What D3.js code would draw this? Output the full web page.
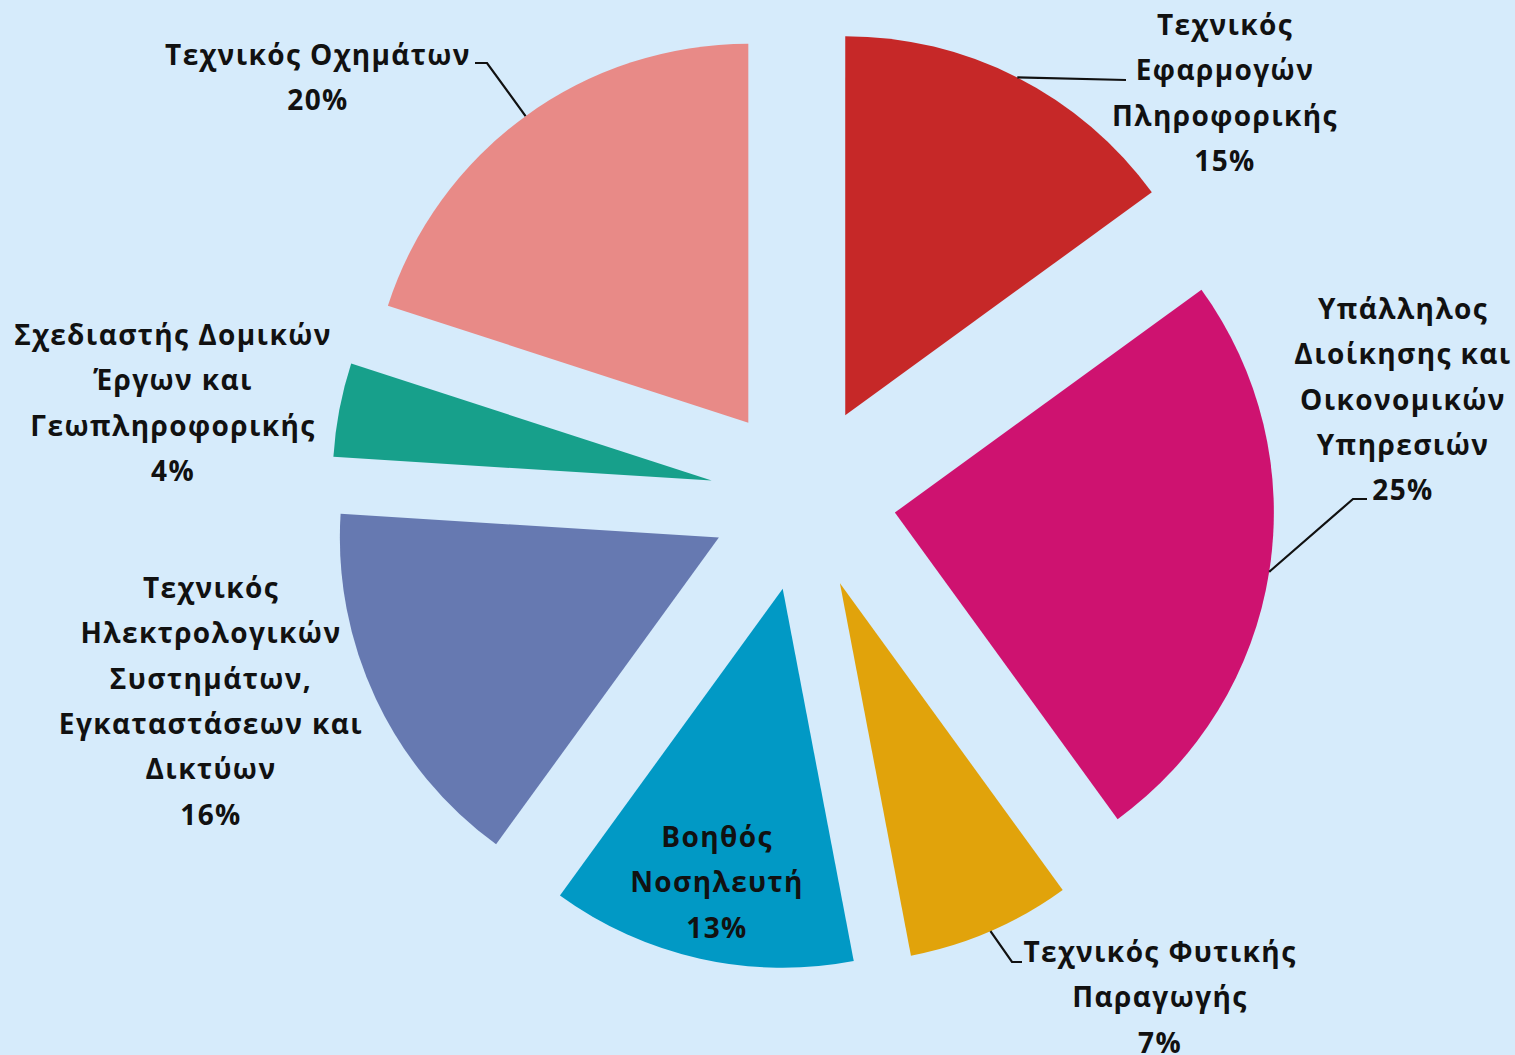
<!DOCTYPE html>
<html>
<head>
<meta charset="utf-8">
<script src="https://cdn.jsdelivr.net/npm/d3@7"></script>
<style>
  html, body { margin: 0; padding: 0; background: #d6ebfb; }
  #chart { width: 1515px; height: 1055px; }
</style>
</head>
<body>
<div id="chart"></div>
<script>
// Exploded pie: distribution by specialty (clockwise from 12 o'clock)
const categories = [
  ['Τεχνικός', 'Εφαρμογών', 'Πληροφορικής'],
  ['Υπάλληλος', 'Διοίκησης και', 'Οικονομικών', 'Υπηρεσιών'],
  ['Τεχνικός Φυτικής', 'Παραγωγής'],
  ['Βοηθός', 'Νοσηλευτή'],
  ['Τεχνικός', 'Ηλεκτρολογικών', 'Συστημάτων,', 'Εγκαταστάσεων και', 'Δικτύων'],
  ['Σχεδιαστής Δομικών', 'Έργων και', 'Γεωπληροφορικής'],
  ['Τεχνικός Οχημάτων']
];
const values = [15, 25, 7, 13, 16, 4, 20];
const colors = ['#c62828', '#ce1270', '#e1a30b', '#0199c5', '#6679b1', '#17a08b', '#e88a87'];

// label placement (centre x, first baseline y) and leader line bends
const labelPos = [[1225, 35], [1403, 319], [1160, 962], [717, 847], [211, 598], [173, 345], [318, 65]];
const leaders = [
  [[1126, 80]],
  [[1353, 499], [1367, 499]],
  [[1012, 962], [1022, 962]],
  null, null, null,
  [[487, 63], [475, 63]]
];

const W = 1515, H = 1055;
const cx = 803, cy = 498, R = 379, explode = 93, lineH = 45.3;

const svg = d3.select('#chart').append('svg').attr('width', W).attr('height', H);
svg.append('rect').attr('width', W).attr('height', H).attr('fill', '#d6ebfb');

const pie = d3.pie().sort(null).value(d => d)(values);
const arc = d3.arc().innerRadius(0).outerRadius(R);
const g = svg.append('g').attr('transform', `translate(${cx},${cy})`);

function offset(d, r) {
  const a = (d.startAngle + d.endAngle) / 2;
  return [Math.sin(a) * r, -Math.cos(a) * r];
}

g.selectAll('path').data(pie).enter().append('path')
  .attr('d', arc)
  .attr('transform', d => `translate(${offset(d, explode)})`)
  .attr('fill', (d, i) => colors[i]);

// leader lines from arc midpoint
const line = d3.line();
pie.forEach((d, i) => {
  if (!leaders[i]) return;
  const o = offset(d, explode + R);
  const pts = [[cx + o[0], cy + o[1]]].concat(leaders[i]);
  svg.append('path').attr('d', line(pts)).attr('fill', 'none')
    .attr('stroke', '#111').attr('stroke-width', 2.2);
});

// labels
const lab = svg.append('g')
  .attr('font-family', '"Open Sans", Lato, sans-serif')
  .attr('font-weight', 700).attr('font-size', '28px')
  .attr('letter-spacing', '1.4px')
  .attr('fill', '#111').attr('text-anchor', 'middle');

categories.forEach((lines, i) => {
  const t = lab.append('text').attr('x', labelPos[i][0]).attr('y', labelPos[i][1]);
  lines.concat([values[i] + '%']).forEach((s, k) => {
    t.append('tspan').attr('x', labelPos[i][0]).attr('dy', k === 0 ? 0 : lineH).text(s);
  });
});
</script>
</body>
</html>
